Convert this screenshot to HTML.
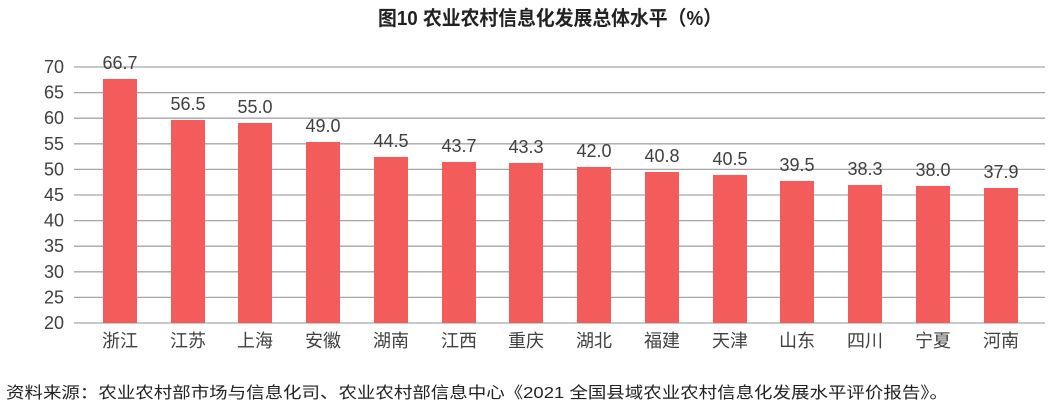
<!DOCTYPE html>
<html><head><meta charset="utf-8"><style>
body{margin:0;background:#fff;}
svg text{font-family:"Liberation Sans","Noto Sans CJK SC",sans-serif;fill:#404040;}
</style></head><body>
<svg width="1050" height="408" xmlns="http://www.w3.org/2000/svg">
<text x="550" y="25" text-anchor="middle" font-size="20" font-weight="bold" style="fill:#222" textLength="344" lengthAdjust="spacingAndGlyphs">图10  农业农村信息化发展总体水平（%）</text>
<g stroke="#a6a6a6" stroke-width="1.3">
<line x1="74" x2="1045" y1="67" y2="67"/><line x1="74" x2="1045" y1="92.6" y2="92.6"/>
<line x1="74" x2="1045" y1="118.2" y2="118.2"/><line x1="74" x2="1045" y1="143.8" y2="143.8"/>
<line x1="74" x2="1045" y1="169.4" y2="169.4"/><line x1="74" x2="1045" y1="195" y2="195"/>
<line x1="74" x2="1045" y1="220.6" y2="220.6"/><line x1="74" x2="1045" y1="246.2" y2="246.2"/>
<line x1="74" x2="1045" y1="271.8" y2="271.8"/><line x1="74" x2="1045" y1="297.4" y2="297.4"/>
<line x1="74" x2="1045" y1="323" y2="323"/>
</g>
<g font-size="18" text-anchor="end">
<text x="64" y="73">70</text><text x="64" y="98.6">65</text><text x="64" y="124.2">60</text>
<text x="64" y="149.8">55</text><text x="64" y="175.4">50</text><text x="64" y="201">45</text>
<text x="64" y="226.6">40</text><text x="64" y="252.2">35</text><text x="64" y="277.8">30</text>
<text x="64" y="303.4">25</text><text x="64" y="329">20</text>
</g>
<g fill="#f45b5b">
<rect x="103" y="79" width="34" height="244"/>
<rect x="171" y="120" width="34" height="203"/>
<rect x="238" y="123" width="34" height="200"/>
<rect x="306" y="142" width="34" height="181"/>
<rect x="374" y="157" width="34" height="166"/>
<rect x="442" y="162" width="34" height="161"/>
<rect x="509" y="163" width="34" height="160"/>
<rect x="577" y="167" width="34" height="156"/>
<rect x="645" y="172" width="34" height="151"/>
<rect x="713" y="175" width="34" height="148"/>
<rect x="780" y="181" width="34" height="142"/>
<rect x="848" y="185" width="34" height="138"/>
<rect x="916" y="186" width="34" height="137"/>
<rect x="984" y="188" width="34" height="135"/>
</g>
<g font-size="18" text-anchor="middle">
<text x="120" y="69">66.7</text><text x="188" y="110">56.5</text><text x="255" y="113">55.0</text>
<text x="323" y="132">49.0</text><text x="391" y="147">44.5</text><text x="459" y="152">43.7</text>
<text x="526" y="153">43.3</text><text x="594" y="157">42.0</text><text x="662" y="162">40.8</text>
<text x="730" y="165">40.5</text><text x="797" y="171">39.5</text><text x="865" y="175">38.3</text>
<text x="933" y="176">38.0</text><text x="1001" y="178">37.9</text>
</g>
<g font-size="18" text-anchor="middle">
<text x="120" y="347">浙江</text><text x="188" y="347">江苏</text><text x="255" y="347">上海</text>
<text x="323" y="347">安徽</text><text x="391" y="347">湖南</text><text x="459" y="347">江西</text>
<text x="526" y="347">重庆</text><text x="594" y="347">湖北</text><text x="662" y="347">福建</text>
<text x="730" y="347">天津</text><text x="797" y="347">山东</text><text x="865" y="347">四川</text>
<text x="933" y="347">宁夏</text><text x="1001" y="347">河南</text>
</g>
<text x="6" y="398" font-size="16" style="fill:#222" textLength="942" lengthAdjust="spacingAndGlyphs">资料来源：农业农村部市场与信息化司、农业农村部信息中心《2021 全国县域农业农村信息化发展水平评价报告》。</text>
</svg>
</body></html>
